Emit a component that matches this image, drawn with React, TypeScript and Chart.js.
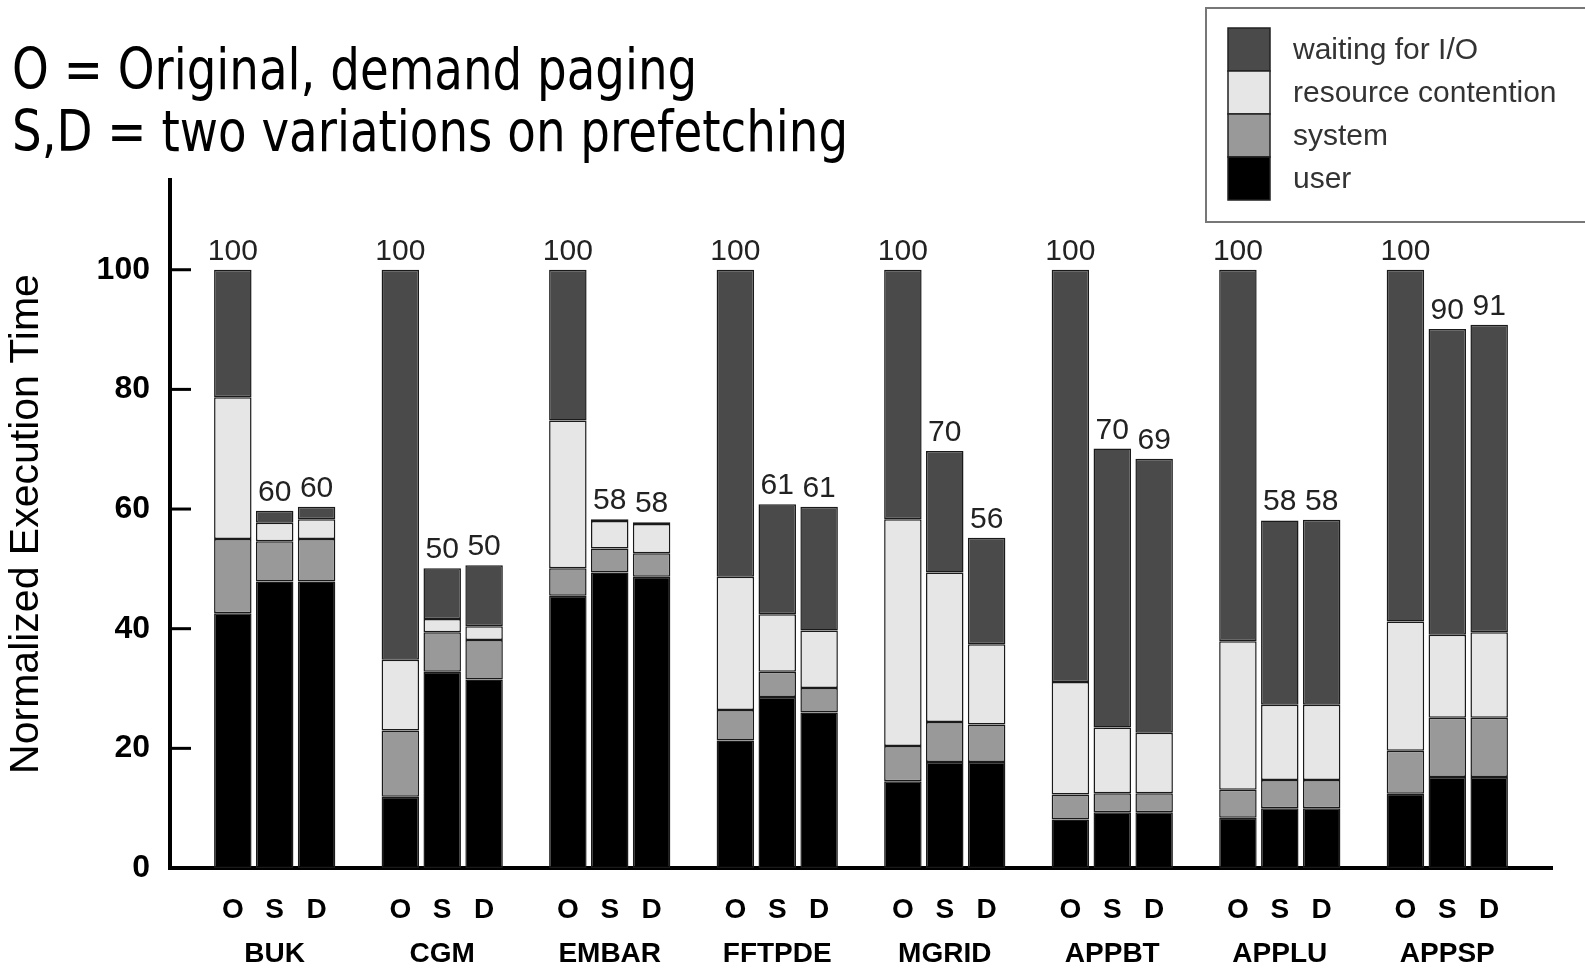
import React, { useEffect, useRef } from 'react';
import { Chart, registerables } from 'chart.js';

Chart.register(...registerables);

const benchmarks = ['BUK', 'CGM', 'EMBAR', 'FFTPDE', 'MGRID', 'APPBT', 'APPLU', 'APPSP'];
const variants = ['O', 'S', 'D'];
const titleLines = ['O = Original, demand paging', 'S,D = two variations on prefetching'];
const seriesNames = ['user', 'system', 'resource contention', 'waiting for I/O'];

// segment heights per bar, order: BUK O,S,D, CGM O,S,D, ...
const userTime = [42.6, 47.9, 47.9, 11.9, 32.8, 31.5, 45.5, 49.4, 48.7, 21.3, 28.6, 26.0, 14.5, 17.7, 17.7, 8.1, 9.3, 9.3, 8.4, 10.0, 10.0, 12.4, 15.2, 15.2];
const systemTime = [12.4, 6.7, 7.1, 11.1, 6.6, 6.6, 4.6, 4.0, 3.9, 5.1, 4.2, 4.1, 5.9, 6.7, 6.3, 4.2, 3.2, 3.2, 4.7, 4.7, 4.7, 7.2, 9.9, 9.9];
const resourceContention = [23.7, 3.1, 3.3, 11.8, 2.2, 2.3, 24.7, 4.6, 4.9, 22.3, 9.6, 9.6, 37.9, 25.0, 13.4, 18.8, 11.0, 10.1, 24.8, 12.6, 12.6, 21.6, 13.9, 14.3];
const waitingIO = [21.3, 2.0, 2.1, 65.2, 8.5, 10.2, 25.2, 0.3, 0.3, 51.3, 18.4, 20.7, 41.7, 20.3, 17.8, 68.9, 46.6, 45.8, 62.1, 30.8, 30.9, 58.8, 51.1, 51.4];
const barTotals = ['100', '60', '60', '100', '50', '50', '100', '58', '58', '100', '61', '61', '100', '70', '56', '100', '70', '69', '100', '58', '58', '100', '90', '91'];
const yTicks = [0, 20, 40, 60, 80, 100];

const seriesColors = ['#000000', '#999999', '#e6e6e6', '#4a4a4a'];
const SANS = '"Liberation Sans", Arial, Helvetica, sans-serif';

const slotCount = benchmarks.length * 4 + 1;
const slotOf = (k: number) => 1 + Math.floor(k / 3) * 4 + (k % 3);
const toSlots = (arr: number[]) => {
  const out: (number | null)[] = Array(slotCount).fill(null);
  arr.forEach((v, k) => { out[slotOf(k)] = v; });
  return out;
};
const buildLabels = () => {
  const out: (string | string[])[] = Array(slotCount).fill('');
  for (let k = 0; k < benchmarks.length * 3; k++) {
    const v = k % 3;
    out[slotOf(k)] = [variants[v], v === 1 ? benchmarks[Math.floor(k / 3)] : ''];
  }
  return out;
};

const decorPlugin = {
  id: 'decor',
  afterDatasetsDraw(chart: any) {
    const ctx = chart.ctx;
    const area = chart.chartArea;
    const yScale = chart.scales.y;
    ctx.save();
    // inner y ticks
    ctx.strokeStyle = '#000';
    ctx.lineWidth = 3;
    yTicks.forEach((v) => {
      const y = yScale.getPixelForValue(v);
      ctx.beginPath();
      ctx.moveTo(area.left, y);
      ctx.lineTo(area.left + 21, y);
      ctx.stroke();
    });
    // bar totals
    const topMeta = chart.getDatasetMeta(chart.data.datasets.length - 1);
    ctx.fillStyle = '#222';
    ctx.font = `30px ${SANS}`;
    ctx.textAlign = 'center';
    ctx.textBaseline = 'alphabetic';
    barTotals.forEach((t, k) => {
      const el = topMeta.data[slotOf(k)];
      if (!el) return;
      ctx.fillText(t, el.x, el.y - 10);
    });
    // title
    ctx.fillStyle = '#000';
    ctx.textAlign = 'left';
    ctx.font = '57px "DejaVu Sans", Verdana, sans-serif';
    titleLines.forEach((line, i) => {
      ctx.save();
      ctx.translate(12, 89 + i * 61.5);
      ctx.scale(0.82, 1);
      ctx.fillText(line, 0, 0);
      ctx.restore();
    });
    // legend
    ctx.strokeStyle = '#777';
    ctx.lineWidth = 2;
    ctx.strokeRect(1206, 8, 420, 214);
    const ds = chart.data.datasets;
    const order = [3, 2, 1, 0];
    ctx.font = `30px ${SANS}`;
    ctx.textBaseline = 'middle';
    order.forEach((di, i) => {
      const y0 = 28 + i * 43;
      ctx.fillStyle = ds[di].backgroundColor;
      ctx.fillRect(1228, y0, 42, 43);
      ctx.strokeStyle = '#222';
      ctx.lineWidth = 1.5;
      ctx.strokeRect(1228, y0, 42, 43);
      ctx.fillStyle = '#333';
      ctx.fillText(ds[di].label, 1293, y0 + 23);
    });
    ctx.restore();
  },
};

export default function App() {
  const ref = useRef<HTMLCanvasElement | null>(null);
  useEffect(() => {
    document.body.style.margin = '0';
    if (!ref.current) return;
    const seriesData = [userTime, systemTime, resourceContention, waitingIO];
    const chart = new Chart(ref.current, {
      type: 'bar',
      data: {
        labels: buildLabels(),
        datasets: seriesData.map((arr, i) => ({
          label: seriesNames[i],
          data: toSlots(arr),
          backgroundColor: seriesColors[i],
          borderColor: '#1a1a1a',
          borderWidth: 1.5,
          borderSkipped: false,
          barPercentage: 0.895,
          categoryPercentage: 1,
        })),
      },
      options: {
        responsive: false,
        animation: false,
        devicePixelRatio: 1,
        layout: { padding: { top: 180, right: 33, left: 0, bottom: 0 } },
        plugins: { legend: { display: false }, tooltip: { enabled: false }, title: { display: false } },
        scales: {
          x: {
            stacked: true,
            grid: { display: false, drawTicks: false },
            border: { display: true, color: '#000', width: 4 },
            ticks: {
              autoSkip: false,
              maxRotation: 0,
              minRotation: 0,
              padding: 21,
              color: '#000',
              font: { family: SANS, size: 28, weight: 'bold', lineHeight: 1.55 },
            },
            afterFit: (s: any) => { s.height = 103; },
          },
          y: {
            stacked: true,
            min: 0,
            max: 115,
            grid: { display: false, drawTicks: false },
            border: { display: true, color: '#000', width: 4 },
            ticks: {
              stepSize: 20,
              includeBounds: false,
              padding: 20,
              color: '#000',
              font: { family: SANS, size: 32, weight: 'bold' },
              callback: (v: any) => (v > 100 ? '' : String(v)),
            },
            title: {
              display: true,
              text: 'Normalized Execution Time',
              color: '#000',
              font: { family: SANS, size: 41, lineHeight: 1 },
              padding: { top: 6, bottom: 0 },
            },
            afterFit: (s: any) => { s.width = 170; },
          },
        },
      },
      plugins: [decorPlugin],
    } as any);
    return () => chart.destroy();
  }, []);
  return (
    <div style={{ width: 1585, height: 971 }}>
      <canvas ref={ref} width={1585} height={971} />
    </div>
  );
}
